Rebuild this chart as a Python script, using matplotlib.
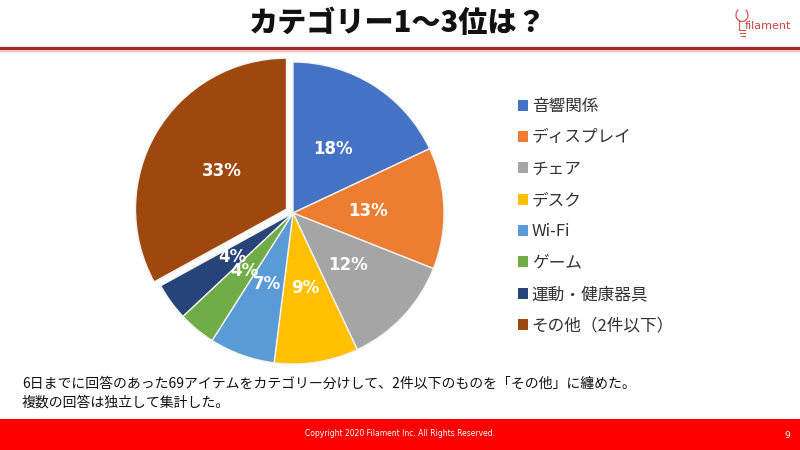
import matplotlib
matplotlib.use("Agg")
import matplotlib.pyplot as plt
from matplotlib.patches import Rectangle, Arc

plt.rcParams['font.family'] = ['Noto Sans CJK JP', 'DejaVu Sans']

# ---- data ----
categories = ["音響関係", "ディスプレイ", "チェア", "デスク", "Wi-Fi", "ゲーム", "運動・健康器具", "その他（2件以下）"]
shares = [18, 13, 12, 9, 7, 4, 4, 33]
colors = ["#4472C4", "#ED7D31", "#A5A5A5", "#FFC000", "#5B9BD5", "#70AD47", "#264478", "#9E480E"]
explode = [0, 0, 0, 0, 0, 0, 0, 0.05]

title = "カテゴリー1～3位は？"
note_lines = ["6日までに回答のあった69アイテムをカテゴリー分けして、2件以下のものを「その他」に纏めた。",
              "複数の回答は独立して集計した。"]
copyright_text = "Copyright 2020 Filament Inc. All Rights Reserved."
page_no = "9"

W, H = 800, 450
fig = plt.figure(figsize=(8, 4.5), dpi=100)
fig.patch.set_facecolor("white")

# background / decoration axes in pixel coords
bg = fig.add_axes([0, 0, 1, 1])
bg.set_xlim(0, W)
bg.set_ylim(H, 0)
bg.axis("off")

# title
bg.text(398, 23, title, ha="center", va="center", fontsize=21, fontweight="heavy",
        color="#111111")
# red rule with soft pink glow
bg.add_patch(Rectangle((0, 45.5), W, 7, color="#FBE3E3", lw=0))
bg.add_patch(Rectangle((0, 46.5), W, 5, color="#F2C4C4", lw=0))
bg.add_patch(Rectangle((0, 47), W, 3.2, color="#A3282B", lw=0))

# logo
logo_c = "#D9534F"
bg.add_patch(Arc((742, 15), 12, 13, theta1=-55, theta2=235, color=logo_c, lw=0.9))
bg.plot([738.5, 738.5], [20, 30], color=logo_c, lw=0.8)
bg.plot([738.5, 745], [30, 30], color=logo_c, lw=0.8)
bg.plot([739.5, 745], [33, 33], color=logo_c, lw=0.8)
bg.plot([740.5, 744.5], [36, 36], color=logo_c, lw=0.8)
bg.text(745, 26, "filament", ha="left", va="center", fontsize=8, color="#C9433F",
        family=["DejaVu Sans"])

# footnote
bg.text(22, 384, note_lines[0], ha="left", va="center", fontsize=10, color="#111111")
bg.text(22, 403, note_lines[1], ha="left", va="center", fontsize=10, color="#111111")

# footer
bg.add_patch(Rectangle((0, 419), W, 31, color="#FF0000", lw=0))
bg.text(400, 434, copyright_text, ha="center", va="center", fontsize=5.5, color="white",
        family=["DejaVu Sans"])
bg.text(787, 436, page_no, ha="center", va="center", fontsize=6.5, color="white",
        family=["DejaVu Sans"])

# pie
cx, cy, r = 293, 213, 151
ax = fig.add_axes([(cx - r) / W, (H - cy - r) / H, 2 * r / W, 2 * r / H])
wedges, texts, autotexts = ax.pie(
    shares, colors=colors, explode=explode, startangle=90, counterclock=False,
    autopct="%.0f%%", pctdistance=0.5,
    wedgeprops=dict(edgecolor="#F2F2F2", linewidth=1.0),
    textprops=dict(color="white", fontsize=12, fontweight="bold", family=["DejaVu Sans"]),
)
ax.set_xlim(-1, 1)
ax.set_ylim(-1, 1)
ax.set_aspect("equal")
for w in wedges:
    w.set_clip_on(False)

# legend
handles = [Rectangle((0, 0), 1, 1, facecolor=c, edgecolor="none") for c in colors]
leg = fig.legend(handles, categories, loc="upper left",
                 bbox_to_anchor=(503 / W, 1 - 83 / H), frameon=False,
                 fontsize=12, handlelength=0.62, handleheight=0.62,
                 handletextpad=0.2, labelspacing=0.86, labelcolor="#333333")

fig.savefig("out.png", dpi=100, facecolor="white")
